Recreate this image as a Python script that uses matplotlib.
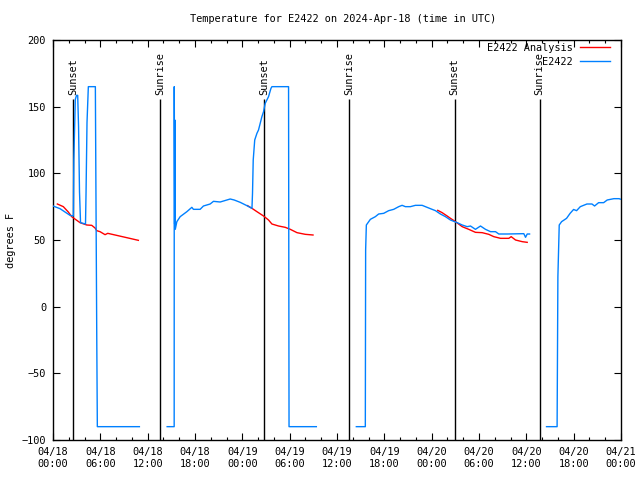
import numpy as np
import pandas as pd
import matplotlib
matplotlib.use("Agg")
import matplotlib.pyplot as plt
import matplotlib.dates as mdates

nan = np.nan

START = pd.Timestamp("2024-04-18 00:00")

# hours since 04/18 00:00 UTC; nan breaks the line between segments
blue_hours = [
    0.0, 0.89, 1.52, 2.16, 2.58, 2.64, 2.83, 2.98, 3.13, 3.24, 3.36, 3.49,
    4.12, 4.19, 4.31, 4.48, 5.37, 5.43, 5.55, 5.62, 10.95,
    12.5,
    14.47, 15.36, 15.37, 15.42, 15.45, 15.5, 15.7, 16.12, 16.97, 17.6, 17.8,
    18.65, 19.07, 19.92, 20.34, 21.19, 22.04, 22.46, 22.97, 23.73, 24.58,
    25.22, 25.29, 25.38, 25.57, 25.85, 26.05, 26.48, 26.69, 26.9, 27.32,
    27.63, 27.75, 29.86, 29.92, 33.38,
    35.0,
    38.45, 39.59, 39.63, 39.72, 40.23, 40.86, 41.28, 41.92, 42.55, 43.19,
    43.82, 44.25, 44.67, 45.3, 45.94, 46.79, 47.21, 47.84, 48.48, 49.11,
    49.75, 50.38, 51.23, 51.87, 52.5, 52.92, 53.55, 54.19, 54.82, 55.46,
    56.09, 56.51, 57.58, 59.68, 59.9, 60.11, 60.41,
    61.5,
    62.56, 63.9, 64.0, 64.17, 64.47, 65.1, 65.55, 65.99, 66.37, 66.84,
    67.68, 68.32, 68.65, 69.16, 69.8, 70.25, 71.1, 71.75, 72.0,
]
blue_temps = [
    75.5, 73.5, 71.0, 68.5, 68.0, 110.0, 155.5, 158.5, 158.5, 135.0, 86.0, 63.0,
    62.0, 86.0, 138.0, 165.0, 165.0, 100.0, -26.0, -90.0, -90.0,
    nan,
    -90.0, -90.0, 165.0, 62.0, 140.0, 58.0, 63.75, 67.5, 71.25, 74.5, 73.0,
    73.0, 75.5, 77.0, 79.0, 78.5, 80.0, 80.75, 80.0, 78.25, 75.75,
    73.75, 85.0, 110.0, 125.0, 130.0, 132.5, 142.5, 146.25, 152.5, 157.5,
    163.75, 165.0, 165.0, -90.0, -90.0,
    nan,
    -90.0, -90.0, 42.5, 61.25, 65.5, 67.5, 69.5, 70.0, 72.0, 73.0,
    75.0, 76.0, 75.0, 75.0, 76.0, 76.0, 75.0, 73.5, 72.0, 69.5,
    67.5, 65.0, 63.0, 61.25, 60.0, 60.5, 58.0, 60.5, 58.0, 56.25,
    56.25, 54.5, 54.5, 54.75, 52.0, 54.5, 54.5,
    nan,
    -90.0, -90.0, 22.5, 61.25, 63.75, 66.25, 70.0, 72.9, 72.0, 75.0,
    77.0, 77.0, 75.5, 78.0, 78.0, 80.0, 81.0, 81.0, 80.5,
]

red_hours = [
    0.55, 1.31, 1.94, 2.37, 2.79, 3.43, 4.28, 4.91, 5.33, 5.55, 5.96, 6.6,
    6.94, 7.87, 9.35, 10.82,
    18.0,
    24.66, 25.22, 25.85, 26.69, 27.32, 27.75, 28.59, 29.44, 30.08, 30.93,
    31.98, 32.96,
    40.0,
    48.77, 49.33, 49.96, 50.38, 51.02, 51.87, 52.7, 53.55, 54.4, 55.24,
    55.88, 56.73, 57.78, 58.08, 58.63, 59.48, 60.11,
]
red_temps = [
    77.0, 75.0, 71.0, 67.5, 65.7, 63.0, 61.25, 61.0, 59.0, 57.0, 56.25, 54.0,
    55.0, 53.75, 51.75, 49.75,
    nan,
    75.75, 73.75, 71.25, 68.0, 65.0, 62.0, 60.5, 59.5, 58.0, 55.5,
    54.25, 53.75,
    nan,
    72.25, 70.5, 68.0, 66.25, 63.75, 60.0, 58.0, 55.75, 55.5, 54.25,
    52.5, 51.25, 51.25, 52.5, 50.0, 48.75, 48.25,
]

sun_hours = [2.54, 13.6, 26.78, 37.56, 50.9, 61.7]
sun_labels = ["Sunset", "Sunrise", "Sunset", "Sunrise", "Sunset", "Sunrise"]

FONT = "DejaVu Sans Mono"
FS = 7.4


def to_time(hours):
    return START + pd.to_timedelta(np.asarray(hours, dtype=float), unit="h")


def main():
    plt.rcParams["font.family"] = FONT
    plt.rcParams["font.size"] = FS

    fig = plt.figure(figsize=(6.4, 4.8), dpi=100)
    ax = fig.add_axes([53 / 640, 40 / 480, 568 / 640, 400 / 480])

    sun_times = to_time(sun_hours)
    ax.vlines(sun_times, -100, 155.5, color="black", lw=1.0, zorder=1)
    for t, label in zip(sun_times, sun_labels):
        ax.text(t, 159, label, rotation=90, ha="center", va="bottom",
                fontsize=FS)

    ax.plot(to_time(red_hours), red_temps, color="#ff0000", lw=1.0,
            label="E2422 Analysis", zorder=2)
    ax.plot(to_time(blue_hours), blue_temps, color="#0080ff", lw=1.0,
            label="E2422", zorder=3)

    ax.set_xlim(START, START + pd.Timedelta(hours=72))
    ax.set_ylim(-100, 200)
    ax.set_yticks(np.arange(-100, 201, 50))

    ax.xaxis.set_major_locator(mdates.HourLocator(byhour=range(0, 24, 6)))
    ax.xaxis.set_minor_locator(mdates.HourLocator(byhour=range(0, 24, 2)))
    ax.xaxis.set_major_formatter(mdates.DateFormatter("%m/%d\n%H:%M"))

    ax.tick_params(which="both", direction="in", top=True, right=True,
                   labelsize=FS, width=0.8)
    ax.tick_params(which="major", length=5, pad=5)
    ax.tick_params(which="minor", length=2.5)
    for spine in ax.spines.values():
        spine.set_linewidth(1.0)

    fig.text(11 / 640, 0.5, "degrees F", rotation=90,
             ha="center", va="center", fontsize=FS)
    fig.text(343 / 640, 1 - 19 / 480,
             "Temperature for E2422 on 2024-Apr-18 (time in UTC)",
             ha="center", va="center", fontsize=FS)

    ax.legend(loc="upper right", bbox_to_anchor=(1 - 11 / 568, 1 - 3 / 400),
              frameon=False, markerfirst=False, fontsize=FS,
              handlelength=2.9, handletextpad=0.7, labelspacing=0.35,
              borderpad=0, borderaxespad=0)

    fig.savefig("out.png", dpi=100)
    plt.close(fig)


if __name__ == "__main__":
    main()
